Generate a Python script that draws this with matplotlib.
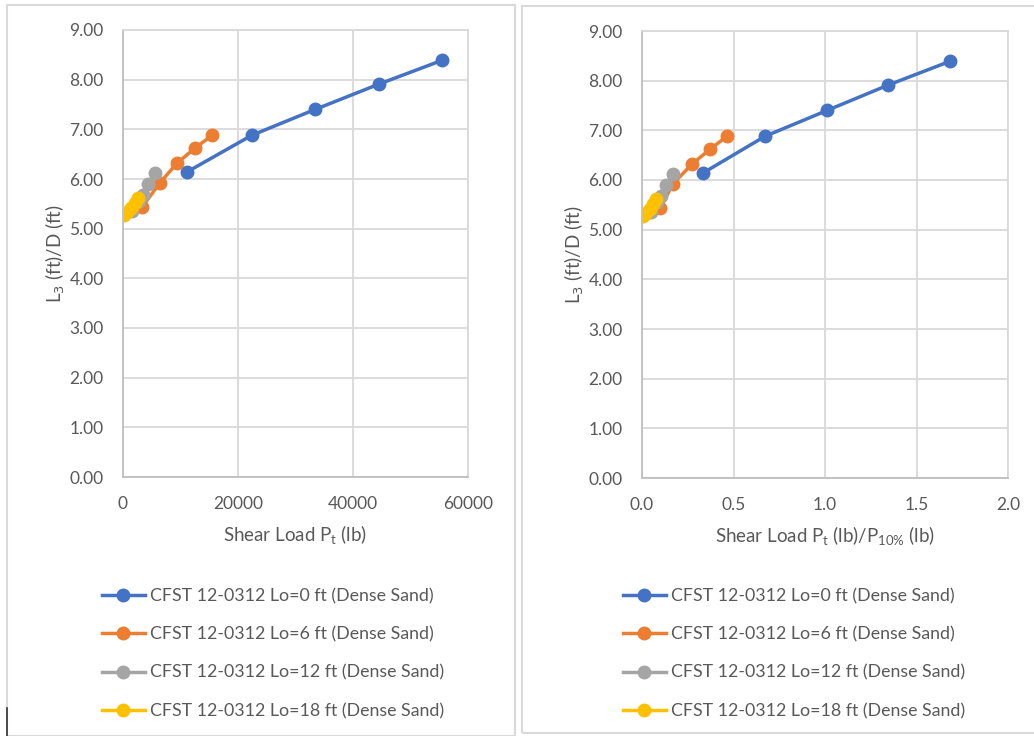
import matplotlib.pyplot as plt
from matplotlib.patches import Rectangle
from matplotlib.lines import Line2D

# valores
labels = ["CFST 12-0312 Lo=0 ft (Dense Sand)",
          "CFST 12-0312 Lo=6 ft (Dense Sand)",
          "CFST 12-0312 Lo=12 ft (Dense Sand)",
          "CFST 12-0312 Lo=18 ft (Dense Sand)"]
cores = ["#4472C4", "#ED7D31", "#A5A5A5", "#FFC000"]

# carga Pt (lb)
pt_lo0 = [11100, 22400, 33400, 44500, 55500]
pt_lo6 = [3300, 6400, 9400, 12500, 15500]
pt_lo12 = [1600, 2700, 3500, 4400, 5500]
pt_lo18 = [250, 700, 1400, 2000, 2600]

# Pt / P10%
r_lo0 = [0.333, 0.672, 1.011, 1.344, 1.683]
r_lo6 = [0.099, 0.169, 0.273, 0.372, 0.464]
r_lo12 = [0.048, 0.081, 0.106, 0.133, 0.167]
r_lo18 = [0.008, 0.021, 0.042, 0.061, 0.079]

# L3/D
l_lo0 = [6.14, 6.88, 7.40, 7.91, 8.39]
l_lo6 = [5.43, 5.92, 6.32, 6.62, 6.88]
l_lo12 = [5.36, 5.55, 5.67, 5.89, 6.12]
l_lo18 = [5.28, 5.33, 5.42, 5.52, 5.61]

plt.rcParams['font.family'] = ['Lato', 'DejaVu Sans']
cinza = "#595959"
grade = "#D9D9D9"

fig = plt.figure(figsize=(10.34, 7.36), dpi=100)
W, H = 1034.0, 736.0

# caixas dos graficos
fig.patches.append(Rectangle((7 / W, 0), 508 / W, 1 - 5 / H, transform=fig.transFigure,
                             fill=False, edgecolor=grade, lw=1.5))
fig.patches.append(Rectangle((522 / W, 1 - 733 / H), 530 / W, 727 / H, transform=fig.transFigure,
                             fill=False, edgecolor=grade, lw=1.5))
fig.lines.append(Line2D([7 / W, 7 / W], [0, 1 - 708 / H], transform=fig.transFigure,
                        color="#333333", lw=1.2))


def criarGrafico(rect, xs, ys, xlim, xticks, xfmt, xlabel, legx):
    ax = fig.add_axes(rect)
    for x, y, c in zip(xs, ys, cores):
        ax.plot(x, y, color=c, lw=2.5, marker="o", markersize=9, solid_capstyle="round")
    ax.set_xlim(xlim)
    ax.set_ylim(0, 9)
    ax.set_xticks(xticks)
    ax.set_xticklabels([xfmt(v) for v in xticks])
    ax.set_yticks([i for i in range(10)])
    ax.set_yticklabels(["%.2f" % i for i in range(10)])
    ax.grid(True, color=grade, lw=1.3)
    ax.set_axisbelow(True)
    for s in ax.spines.values():
        s.set_color(grade)
        s.set_linewidth(1.3)
    ax.spines["left"].set_color("#BFBFBF")
    ax.spines["bottom"].set_color("#BFBFBF")
    ax.tick_params(length=0, labelsize=12.5, colors=cinza, pad=14)
    ax.tick_params(axis="x", pad=14)
    ax.set_xlabel(xlabel, fontsize=13.5, color=cinza, labelpad=8)
    ax.set_ylabel("L$_3$ (ft)/D (ft)", fontsize=13.5, color=cinza, labelpad=2)
    hs = [Line2D([], [], color=c, lw=2.5, marker="o", markersize=9) for c in cores]
    fig.legend(hs, labels, loc="upper left", bbox_to_anchor=(legx / W, 1 - 581 / H),
               frameon=False, fontsize=12.8, labelcolor=cinza, handlelength=2.4,
               handletextpad=0.3, labelspacing=1.25, borderaxespad=0)
    return ax


criarGrafico([123 / W, 1 - 477 / H, 345 / W, 447 / H],
             [pt_lo0, pt_lo6, pt_lo12, pt_lo18], [l_lo0, l_lo6, l_lo12, l_lo18],
             (0, 60000), [0, 20000, 40000, 60000], lambda v: "%d" % v,
             "Shear Load P$_\\mathregular{t}$ (lb)", 95)

criarGrafico([642 / W, 1 - 478 / H, 366 / W, 447 / H],
             [r_lo0, r_lo6, r_lo12, r_lo18], [l_lo0, l_lo6, l_lo12, l_lo18],
             (0, 2.0), [0, 0.5, 1.0, 1.5, 2.0], lambda v: "%.1f" % v,
             "Shear Load P$_\\mathregular{t}$ (lb)/P$_\\mathregular{10\\%}$ (lb)", 616)

fig.savefig("out.png", dpi=100)
